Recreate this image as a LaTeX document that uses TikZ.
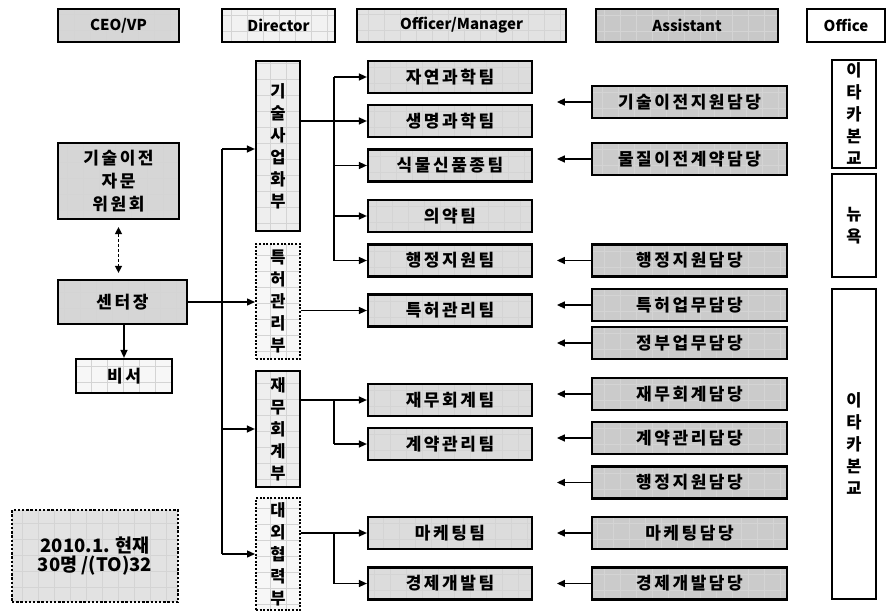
\documentclass[tikz,border=0pt]{standalone}
\usepackage{fontspec}
\setmainfont{Noto Sans CJK KR}
\newfontfamily\krs{Noto Sans CJK KR}[LetterSpace=15]
\usetikzlibrary{arrows.meta}
\definecolor{fceo}{HTML}{D6D6D6}
\definecolor{fdir}{HTML}{F2F2F2}
\definecolor{foff}{HTML}{E2E2E2}
\definecolor{fasst}{HTML}{C8C8C8}
\definecolor{fteam}{HTML}{DCDCDC}
\definecolor{fpart}{HTML}{CBCBCB}
\definecolor{fdept}{HTML}{EEEEEE}
\definecolor{fdeptd}{HTML}{F7F7F7}
\begin{document}
\begin{tikzpicture}[x=1pt,y=-1pt,
  gridded/.style={path picture={\draw[solid,line width=0.5pt,draw=black!17]
      (path picture bounding box.south west) grid[step=16pt]
      (path picture bounding box.north east);}},
  box/.style={draw=black, line width=2.2pt, inner sep=0pt, align=center, gridded},
  dotbox/.style={box, line width=2pt, dash pattern=on 2pt off 1.6pt},
  hdr/.style={box, minimum height=33pt, font=\bfseries\fontsize{15}{18}\selectfont},
  team/.style={box, fill=fteam, minimum width=164pt, minimum height=32pt,
      font=\krs\bfseries\fontsize{17}{18}\selectfont},
  part/.style={box, fill=fpart, minimum width=195pt, minimum height=32pt,
      font=\krs\bfseries\fontsize{17}{18}\selectfont},
  vtext/.style={minimum width=44pt, font=\bfseries\fontsize{16.5}{22}\selectfont},
  dept/.style={box, fill=fdept, vtext},
  deptd/.style={dotbox, fill=fdeptd, vtext},
  officebox/.style={draw=black, line width=2.2pt, inner sep=0pt, align=center,
      fill=white, vtext},
  arr/.style={-{Triangle[length=8pt,width=7pt]}, line width=1.4pt},
  link/.style={line width=1.4pt},
]
\useasboundingbox (0,0) rectangle (889,613);

% column headings
\node[hdr, fill=fceo,  minimum width=121pt] (hceo)  at (118.5,25.5) {CEO/VP};
\node[hdr, fill=fdir,  minimum width=113pt] (hdir)  at (278.5,25.5) {Director};
\node[hdr, fill=foff,  minimum width=209pt] (hoff)  at (461.5,25.5) {Officer/Manager};
\node[hdr, fill=fasst, minimum width=182pt] (hasst) at (687,25.5)   {Assistant};
\node[draw=black, line width=2.2pt, fill=white, minimum width=78pt, minimum height=33pt,
      inner sep=0pt, font=\bfseries\fontsize{15}{18}\selectfont] (hoffice) at (846,25.5) {Office};

% head office
\node[box, fill=fceo, minimum width=121pt, minimum height=76pt,
      font=\krs\bfseries\fontsize{17}{23}\selectfont] (adv) at (118.5,181) {기술이전\\자문\\위원회};
\node[box, fill=fceo, minimum width=129pt, minimum height=44pt,
      font=\krs\bfseries\fontsize{17}{18}\selectfont] (ctr) at (122.5,302) {센터장};
\node[box, fill=fdeptd, minimum width=96pt, minimum height=34pt,
      font=\krs\bfseries\fontsize{17}{18}\selectfont] (sec) at (124,376) {비서};
\node[box, fill=foff, line width=2.6pt, dash pattern=on 2.4pt off 1.8pt,
      minimum width=166pt, minimum height=92pt,
      font=\bfseries\fontsize{18.5}{19}\selectfont] (note) at (95,556) {2010.1. 현재\\30명 /(TO)32};

% departments
\node[dept,  minimum height=170pt] (d1) at (278,146)   {기\\술\\사\\업\\화\\부};
\node[deptd, minimum height=115pt] (d2) at (278,301.5) {특\\허\\관\\리\\부};
\node[dept,  minimum height=116pt] (d3) at (278,429)   {재\\무\\회\\계\\부};
\node[deptd, minimum height=112pt] (d4) at (278,554)   {대\\외\\협\\력\\부};

% teams
\node[team] (t1)  at (450,77)    {자연과학팀};
\node[team] (t2)  at (450,121)   {생명과학팀};
\node[team] (t3)  at (450,165.5) {식물신품종팀};
\node[team] (t4)  at (450,216)   {의약팀};
\node[team] (t5)  at (450,260.5) {행정지원팀};
\node[team] (t6)  at (450,310.5) {특허관리팀};
\node[team] (t7)  at (450,400)   {재무회계팀};
\node[team] (t8)  at (450,444)   {계약관리팀};
\node[team] (t9)  at (450,533)   {마케팅팀};
\node[team] (t10) at (450,583.5) {경제개발팀};

% assistants
\node[part] (a1)  at (689.5,102)   {기술이전지원담당};
\node[part] (a2)  at (689.5,159)   {물질이전계약담당};
\node[part] (a3)  at (689.5,260.5) {행정지원담당};
\node[part] (a4)  at (689.5,305)   {특허업무담당};
\node[part] (a5)  at (689.5,343)   {정부업무담당};
\node[part] (a6)  at (689.5,394)   {재무회계담당};
\node[part] (a7)  at (689.5,438)   {계약관리담당};
\node[part] (a8)  at (689.5,482.5) {행정지원담당};
\node[part] (a9)  at (689.5,533)   {마케팅담당};
\node[part] (a10) at (689.5,583.5) {경제개발담당};

% offices
\node[officebox, minimum height=108pt] (o1) at (854,114)   {이\\타\\카\\본\\교};
\node[officebox, minimum height=103pt] (o2) at (854,225.5) {뉴\\욕};
\node[officebox, minimum height=310pt] (o3) at (854,444)   {이\\타\\카\\본\\교};

% advisory link and secretary
\draw[{Triangle[length=7pt,width=7pt]}-{Triangle[length=7pt,width=7pt]}, line width=1.3pt,
      dash pattern=on 3pt off 2pt, shorten <=7pt, shorten >=6pt]
      (adv.south) -- (adv.south |- ctr.north);
\draw[arr] (sec.north |- ctr.south) -- (sec.north);

% director trunk
\coordinate (trk) at (222,149);
\draw[link] (trk) -- (trk |- d4);
\draw[arr] (trk) -- (d1.west |- trk);
\draw[arr] (ctr.east) -- (d2.west |- ctr.east);
\draw[arr] (trk |- d3) -- (d3.west);
\draw[arr] (trk |- d4) -- (d4.west);

% technology commercialisation teams
\coordinate (b1) at (334,121);
\draw[link] (d1.east |- b1) -- (b1);
\draw[link] (b1 |- t1) -- (b1 |- t5);
\draw[arr] (b1) -- (t2.west);
\draw[arr] (b1 |- t1) -- (t1.west);
\draw[arr] (b1 |- t3) -- (t3.west);
\draw[arr] (b1 |- t4) -- (t4.west);
\draw[arr] (b1 |- t5) -- (t5.west);

% patent team
\draw[arr] (d2.east |- t6) -- (t6.west);

% finance teams
\coordinate (b3) at (334,400);
\draw[arr] (d3.east |- t7) -- (t7.west);
\draw[link] (b3) -- (b3 |- t8);
\draw[arr] (b3 |- t8) -- (t8.west);

% external cooperation teams
\coordinate (b4) at (334,533);
\draw[arr] (d4.east |- t9) -- (t9.west);
\draw[link] (b4) -- (b4 |- t10);
\draw[arr] (b4 |- t10) -- (t10.west);

% assistant pointers
\foreach \p in {a1,a2,a3,a4,a5,a6,a7,a8,a9,a10}
  \draw[arr] (\p.west) -- ++(-34,0);
\end{tikzpicture}
\end{document}
